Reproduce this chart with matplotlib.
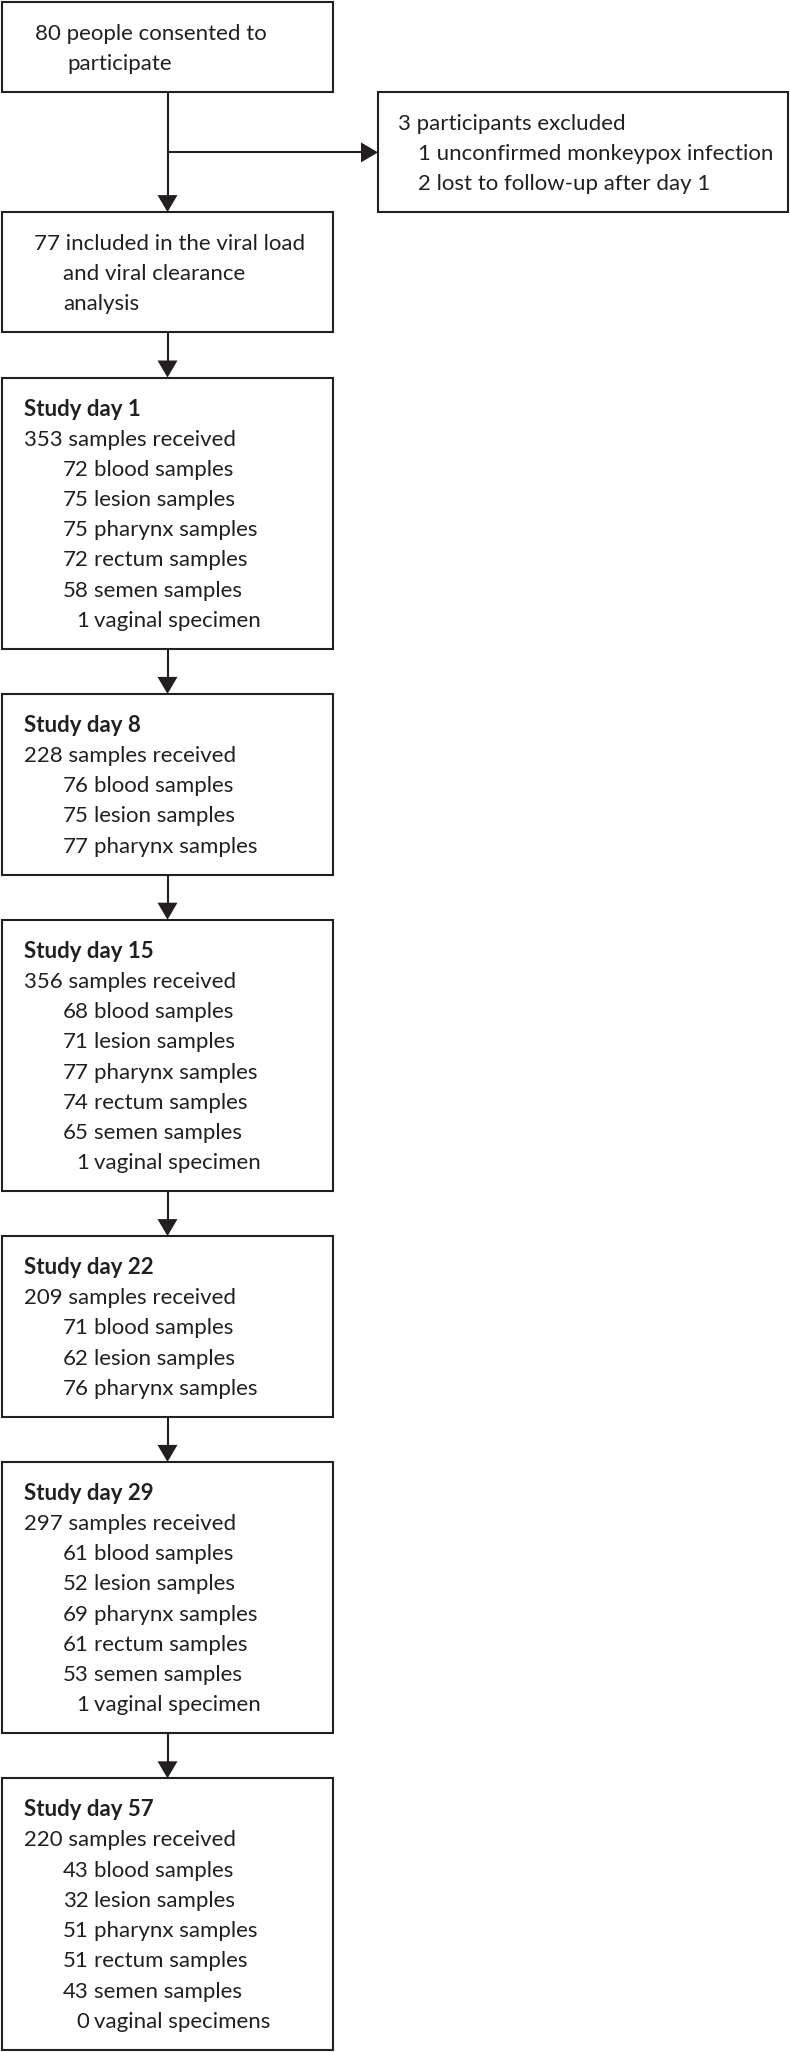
import matplotlib
matplotlib.use("Agg")
import matplotlib.pyplot as plt
from matplotlib.patches import Rectangle, Polygon

# numbers
consented = 80
excluded = 3
excluded_unconfirmed = 1
excluded_lost = 2
included = 77

days = [1, 8, 15, 22, 29, 57]
received = [353, 228, 356, 209, 297, 220]
blood = [72, 76, 68, 71, 61, 43]
lesion = [75, 75, 71, 62, 52, 32]
pharynx = [75, 77, 77, 76, 69, 51]
rectum = [72, None, 74, None, 61, 51]
semen = [58, None, 65, None, 53, 43]
vaginal = [1, None, 1, None, 1, 0]

W, H = 790, 2052
INK = "#231f20"
FONT = ["Lato", "DejaVu Sans"]
FS = 16
LINE = 30.2      # baseline to baseline
PAD_TOP = 38     # box top to first baseline
PAD = 60         # total vertical padding of a box
GAP = 45         # space between stacked boxes
LW = 1.5

fig = plt.figure(figsize=(W / 100, H / 100), dpi=100)
ax = fig.add_axes([0, 0, 1, 1])
ax.set_xlim(0, W)
ax.set_ylim(H, 0)
ax.axis("off")


def box_height(n):
    return PAD + LINE * (n - 1)


def draw_box(x0, x1, top, n):
    h = box_height(n)
    ax.add_patch(Rectangle((x0, top), x1 - x0, h, fill=False,
                           edgecolor=INK, linewidth=LW))
    return top + h


def put(x, y, s, bold=False, ha="left"):
    ax.text(x, y, s, ha=ha, va="baseline", fontsize=FS, color=INK,
            family=FONT, fontweight="bold" if bold else "normal")


def arrow_down(x, y0, y1):
    ax.plot([x, x], [y0, y1 - 14], color=INK, linewidth=LW,
            solid_capstyle="butt")
    ax.add_patch(Polygon([(x - 10, y1 - 17), (x + 10, y1 - 17), (x, y1)],
                         closed=True, facecolor=INK, edgecolor="none"))


def arrow_right(y, x0, x1):
    ax.plot([x0, x1 - 14], [y, y], color=INK, linewidth=LW,
            solid_capstyle="butt")
    ax.add_patch(Polygon([(x1 - 17, y - 10), (x1 - 17, y + 10), (x1, y)],
                         closed=True, facecolor=INK, edgecolor="none"))


LEFT, RIGHT = 2, 333
MID = (LEFT + RIGHT) / 2
EX_LEFT, EX_RIGHT = 378, 788

# consent box
top = 1.5
bottom = draw_box(LEFT, RIGHT, top, 2)
put(35, top + PAD_TOP, f"{consented} people consented to")
put(67, top + PAD_TOP + LINE, "participate")
consent_bottom = bottom

# exclusion box
ex_top = consent_bottom
ex_bottom = draw_box(EX_LEFT, EX_RIGHT, ex_top, 3)
put(398, ex_top + PAD_TOP, f"{excluded} participants excluded")
put(418, ex_top + PAD_TOP + LINE,
    f"{excluded_unconfirmed} unconfirmed monkeypox infection")
put(418, ex_top + PAD_TOP + 2 * LINE,
    f"{excluded_lost} lost to follow-up after day 1")

# included box
top = ex_bottom
arrow_down(MID, consent_bottom, top)
arrow_right((consent_bottom + top) / 2 + 0.5, MID, EX_LEFT)
bottom = draw_box(LEFT, RIGHT, top, 3)
put(34, top + PAD_TOP, f"{included} included in the viral load")
put(63, top + PAD_TOP + LINE, "and viral clearance")
put(63, top + PAD_TOP + 2 * LINE, "analysis")

# one box per study day
for i, d in enumerate(days):
    rows = [("blood samples", blood[i]),
            ("lesion samples", lesion[i]),
            ("pharynx samples", pharynx[i]),
            ("rectum samples", rectum[i]),
            ("semen samples", semen[i]),
            ("vaginal specimen" if vaginal[i] == 1 else "vaginal specimens",
             vaginal[i])]
    rows = [r for r in rows if r[1] is not None]

    top = bottom + GAP
    arrow_down(MID, bottom, top)
    bottom = draw_box(LEFT, RIGHT, top, len(rows) + 2)

    y = top + PAD_TOP
    put(24, y, f"Study day {d}", bold=True)
    y += LINE
    put(24, y, f"{received[i]} samples received")
    for label, n in rows:
        y += LINE
        put(89, y, str(n), ha="right")
        put(94, y, label)

fig.savefig("out.png", dpi=100, facecolor="white")
